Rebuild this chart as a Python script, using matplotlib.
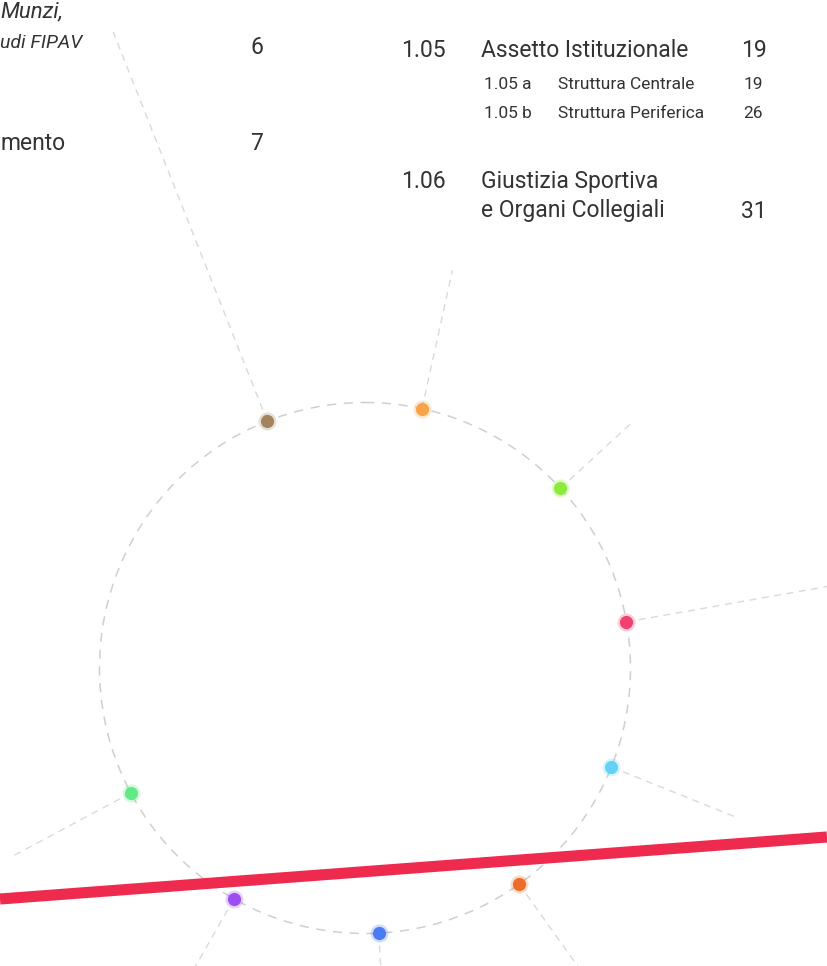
import numpy as np
import matplotlib as mpl
import matplotlib.pyplot as plt
from matplotlib.patches import Circle

mpl.use('Agg')

# ring of coloured nodes (page pixel units, y grows downwards)
ring_center = (365, 668)
ring_radius = 265.5
node_angles = [111.6, 77.6, 42.6, 10.0, -21.9, -54.5, -87.0, -119.6, -151.9]
spoke_ends = [684, 407, 362, 520, 400, 420, 420, 420, 400]
node_colors = ['#a4845f', '#f7a44a', '#8ceb3a', '#f0416f', '#62d3f7',
               '#ec6c2c', '#4b7cf2', '#9c4ef2', '#62ea86']

# diagonal red band: y at left and right page edge
band_y = [899, 837]
band_color = '#ee2a4f'

# index entries: (number, title, page)
toc_main = [('1.05', 'Assetto Istituzionale', '19')]
toc_sub = [('1.05 a', 'Struttura Centrale', '19'),
           ('1.05 b', 'Struttura Periferica', '26')]
toc_last = ('1.06', ['Giustizia Sportiva', 'e Organi Collegiali'], '31')
left_italic = ['Munzi,', 'udi FIPAV']
left_pages = ['6', '7']
left_plain = 'mento'

FONT = ['Roboto', 'Liberation Sans', 'DejaVu Sans']
TXT = '#333333'

fig = plt.figure(figsize=(8.27, 9.66), dpi=100)
ax = fig.add_axes([0, 0, 1, 1])
ax.set_xlim(0, 827)
ax.set_ylim(966, 0)
ax.set_aspect('equal')
ax.axis('off')

cx, cy = ring_center
ax.add_patch(Circle(ring_center, ring_radius, fill=False, ec='#cfcfcf',
                    lw=1.1, ls=(0, (6, 5)), zorder=1))

ang = np.radians(node_angles)
nx = cx + ring_radius * np.cos(ang)
ny = cy - ring_radius * np.sin(ang)
for a, r_out, x0, y0 in zip(ang, spoke_ends, nx, ny):
    x1 = cx + r_out * np.cos(a)
    y1 = cy - r_out * np.sin(a)
    ax.plot([x0, x1], [y0, y1], color='#dadada', lw=1.0,
            ls=(0, (5, 4)), zorder=1)

ax.plot([0, 827], band_y, color=band_color, lw=8, solid_capstyle='butt',
        zorder=2)

for x, y, c in zip(nx, ny, node_colors):
    ax.plot(x, y, 'o', ms=13, color=c, alpha=0.25, mec='none', zorder=3)
    ax.plot(x, y, 'o', ms=9.5, color=c, mec='none', zorder=4)


def put(x, y, s, size, **kw):
    ax.text(x, y, s, fontsize=size, color=TXT, family=FONT, **kw)


# right column of the index
big, small = 16.5, 12.5
for num, title, page in toc_main:
    put(401, 57, num, big)
    put(481, 57, title, big)
    put(767, 57, page, big, ha='right')
for i, (num, title, page) in enumerate(toc_sub):
    y = 89 + 28.5 * i
    put(484, y, num, small)
    put(558, y, title, small)
    put(763, y, page, small, ha='right')
num, lines, page = toc_last
put(401, 188, num, big)
for i, line in enumerate(lines):
    put(481, 188 + 29.5 * i, line, big)
put(767, 217.5, page, big, ha='right')

# left column, starting right at the page edge
put(0, 17, left_italic[0], 16, style='italic')
put(0, 48, left_italic[1], 14, style='italic')
put(263, 54, left_pages[0], big, ha='right')
put(0, 150, left_plain, big)
put(263, 150, left_pages[1], big, ha='right')

plt.savefig('out.png', dpi=100)
